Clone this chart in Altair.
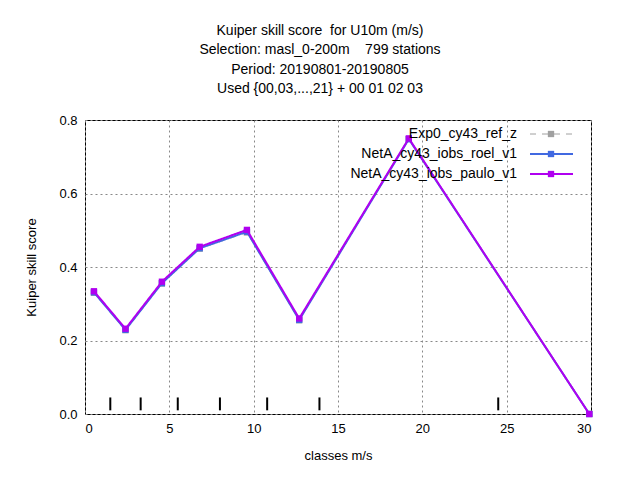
import altair as alt
import pandas as pd

CLASSES = [0.53, 2.4, 4.56, 6.8, 9.6, 12.7, 19.2, 29.9]
EXP0 = [0.330, 0.228, 0.355, 0.450, 0.494, 0.255, 0.748, 0.0]
ROEL = [0.331, 0.229, 0.356, 0.451, 0.496, 0.256, 0.748, 0.0]
PAULO = [0.334, 0.232, 0.360, 0.455, 0.501, 0.260, 0.750, 0.0]
BOUNDS = [1.5, 3.3, 5.5, 8.0, 10.8, 13.9, 24.5]
X_TICKS = [0, 5, 10, 15, 20, 25, 30]
Y_TICKS = [0.0, 0.1, 0.2, 0.3, 0.4, 0.5, 0.6, 0.7, 0.8]

SERIES = ["Exp0_cy43_ref_z", "NetA_cy43_iobs_roel_v1", "NetA_cy43_iobs_paulo_v1"]
COLORS = ["#a0a0a0", "#4169e1", "#b000f0"]
DASHES = [[6, 6], [1, 0], [1, 0]]
WIDTHS = [1, 2, 2]
FONT = "Liberation Sans"

rows = []
for name, vals in zip(SERIES, [EXP0, ROEL, PAULO]):
    for x, y in zip(CLASSES, vals):
        rows.append({"series": name, "x": x, "y": y})
data = pd.DataFrame(rows)

xs = alt.Scale(domain=[0, 30], nice=False)
ys = alt.Scale(domain=[0, 0.8], nice=False)
xax = alt.Axis(values=X_TICKS, labelOverlap=False, grid=True, tickSize=0, labelPadding=8,
               titlePadding=14)
yax = alt.Axis(values=Y_TICKS, format=".1f", labelOverlap=False, grid=True, tickSize=0,
               labelPadding=8, titlePadding=20)

layers = []
for i, name in enumerate(SERIES):
    sub = data[data["series"] == name]
    base = alt.Chart(sub).encode(
        x=alt.X("x:Q", scale=xs, axis=xax, title="classes m/s"),
        y=alt.Y("y:Q", scale=ys, axis=yax, title="Kuiper skill score"),
    )
    layers.append(base.mark_line(color=COLORS[i], strokeDash=DASHES[i], strokeWidth=WIDTHS[i]))
    layers.append(base.mark_point(shape="square", filled=True, opacity=1, size=40, color=COLORS[i]))

bounds = pd.DataFrame({"b": BOUNDS, "lo": [0.01] * len(BOUNDS), "hi": [0.045] * len(BOUNDS)})
layers.append(alt.Chart(bounds).mark_rule(color="black", strokeWidth=2).encode(
    x=alt.X("b:Q", scale=xs), y=alt.Y("lo:Q", scale=ys), y2="hi:Q"))

# legend drawn inside the plot, labels left of the samples
leg = pd.DataFrame({"series": SERIES})
for i, name in enumerate(SERIES):
    row = leg[leg["series"] == name]
    yy = 14 + 20 * i
    layers.append(alt.Chart(row).mark_text(align="right", baseline="middle", fontSize=14, font=FONT).encode(
        x=alt.value(432), y=alt.value(yy), text="series:N"))
    layers.append(alt.Chart(row).mark_rule(color=COLORS[i], strokeDash=DASHES[i], strokeWidth=WIDTHS[i]).encode(
        x=alt.value(445), x2=alt.value(488), y=alt.value(yy)))
    layers.append(alt.Chart(row).mark_point(shape="square", filled=True, opacity=1, size=40, color=COLORS[i]).encode(
        x=alt.value(466), y=alt.value(yy)))

NB = "\u00a0"
chart = alt.layer(*layers).properties(
    width=506, height=294,
    autosize=alt.AutoSizeParams(type="none"),
    padding={"left": 77, "top": 112, "right": 41, "bottom": 58},
    title=alt.TitleParams(
        [f"Kuiper skill score {NB}for U10m (m/s)", f"Selection: masl_0-200m {NB}{NB}{NB}799 stations",
         "Period: 20190801-20190805", "Used {00,03,...,21} + 00 01 02 03"],
        fontSize=14, fontWeight="normal", font=FONT, lineHeight=19.5, offset=18, dx=-18, anchor="middle"),
).configure_view(stroke="black", strokeWidth=1).configure_axis(
    labelColor="black", titleColor="black", labelFontSize=13, titleFontSize=13,
    titleFontWeight="normal", labelFont=FONT, titleFont=FONT, domain=False,
    grid=True, gridDash=[2, 3], gridColor="#888888", gridOpacity=1,
)

chart.save("out.html", embed_options={"renderer": "svg", "actions": False})
